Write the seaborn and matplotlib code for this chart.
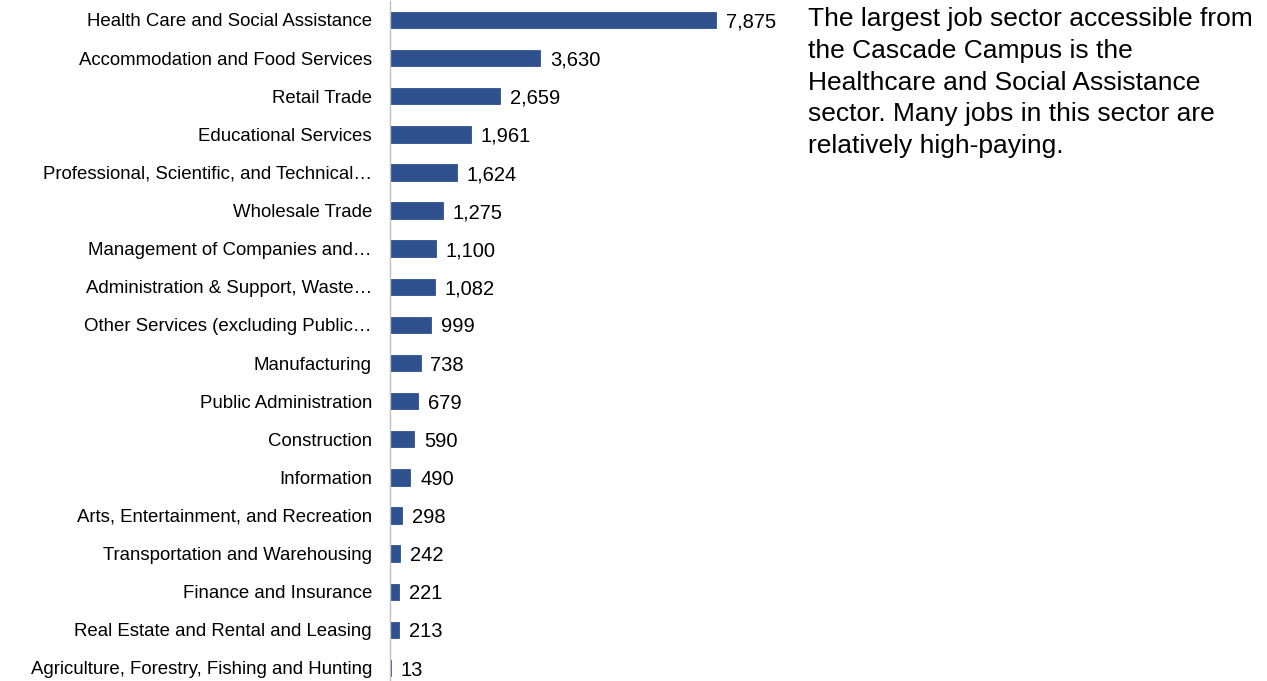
import matplotlib
matplotlib.use("Agg")
import matplotlib.pyplot as plt
import seaborn as sns
import pandas as pd

sectors = [
    "Health Care and Social Assistance",
    "Accommodation and Food Services",
    "Retail Trade",
    "Educational Services",
    "Professional, Scientific, and Technical\u2026",
    "Wholesale Trade",
    "Management of Companies and\u2026",
    "Administration & Support, Waste\u2026",
    "Other Services (excluding Public\u2026",
    "Manufacturing",
    "Public Administration",
    "Construction",
    "Information",
    "Arts, Entertainment, and Recreation",
    "Transportation and Warehousing",
    "Finance and Insurance",
    "Real Estate and Rental and Leasing",
    "Agriculture, Forestry, Fishing and Hunting",
]
jobs = [7875, 3630, 2659, 1961, 1624, 1275, 1100, 1082, 999,
        738, 679, 590, 490, 298, 242, 221, 213, 13]

note = ("The largest job sector accessible from\n"
        "the Cascade Campus is the\n"
        "Healthcare and Social Assistance\n"
        "sector. Many jobs in this sector are\n"
        "relatively high-paying.")

sns.set_theme(style="white")
plt.rcParams["font.family"] = ["Liberation Sans", "DejaVu Sans"]

df = pd.DataFrame({"sector": sectors, "jobs": jobs})

fig = plt.figure(figsize=(12.67, 6.81), dpi=100)
W, H = 1267, 681
top_px, bot_px = 0.94, 687.0
ax = fig.add_axes([390 / W, 1 - bot_px / H, 400 / W, (bot_px - top_px) / H])

bar_color = "#2F528F"
sns.barplot(data=df, x="jobs", y="sector", orient="h", color=bar_color,
            saturation=1, width=0.43, edgecolor=bar_color, linewidth=0.6,
            ax=ax)

ax.set_xlim(0, 9663)
ax.set_ylim(len(sectors) - 0.5, -0.5)
ax.set_xlabel("")
ax.set_ylabel("")
ax.set_xticks([])

for i, v in enumerate(jobs):
    ax.annotate(f"{v:,}", xy=(v, i), xytext=(7, -1.5), textcoords="offset points",
                va="center", ha="left", fontsize=14.5, color="#000000")

ax.tick_params(axis="y", length=0, pad=13, labelsize=13.4, labelcolor="#000000")
for side in ("top", "right", "bottom"):
    ax.spines[side].set_visible(False)
ax.spines["left"].set_color("#BFBFBF")
ax.spines["left"].set_linewidth(1.0)

fig.text(808 / W, 1 - 7 / H, note, ha="left", va="top", fontsize=19,
         color="#000000", linespacing=1.41)

fig.savefig("out.png", dpi=100)
